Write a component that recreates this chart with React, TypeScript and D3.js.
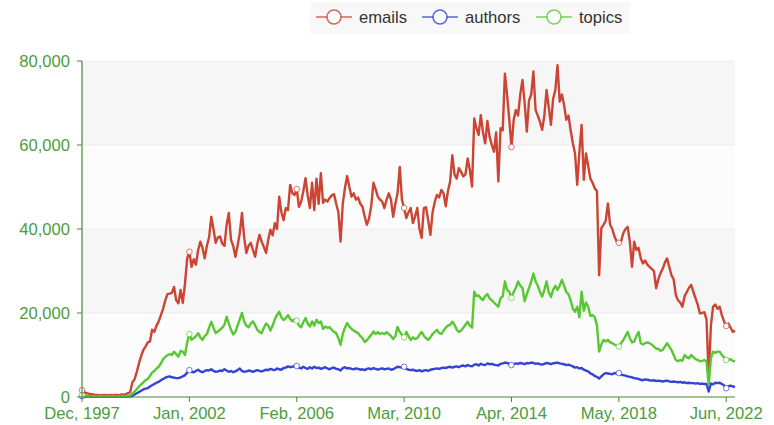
import React from "react";
import * as d3 from "d3";

const START_YEAR = 1997;
const START_MONTH = 11; // December (0-based)
const MONTHS = ["Jan","Feb","Mar","Apr","May","Jun","Jul","Aug","Sep","Oct","Nov","Dec"];
const LABEL_INTERVAL = 49;
const Y_TICKS = [0, 20000, 40000, 60000, 80000];

const emails = [
  1600,1200,900,800,700,600,500,500,400,400,
  500,400,400,500,400,500,500,400,600,500,
  700,900,1200,3500,4200,6000,8000,9800,11200,12000,
  13000,13200,16000,15500,17000,18000,19500,21000,23000,24500,
  24600,24800,26200,23000,22300,25500,22400,27000,33000,34600,
  31000,32800,31500,35000,37000,35500,33000,36000,38000,42900,
  40000,36700,38000,38200,36500,36000,41000,43800,37400,36000,
  33400,36000,39000,43800,38000,34300,36000,36700,35000,33400,
  36500,38600,37000,35700,34300,37500,39800,38500,41400,40000,
  47700,44000,42100,45000,44500,50500,48500,48100,49500,45300,
  46500,49000,52100,48000,45000,51000,44500,52000,46000,53300,
  46200,47000,46500,47400,48000,48300,46000,44000,37000,46000,
  49800,52600,50000,47700,48500,47000,47500,46000,45300,43000,
  41000,42500,45500,51000,49500,47700,47000,46500,45000,47000,
  48500,47000,42900,46000,48500,54800,47000,45000,42600,44000,
  45000,41400,43000,45000,40000,37900,45000,45200,42000,38600,
  44000,46500,48100,47500,49300,48500,45400,49000,51300,57600,
  53000,52000,54500,53600,52500,53000,56800,54000,50100,66300,
  64000,62400,67100,63000,60400,65700,62000,60000,58400,63000,
  51300,64000,63500,77000,71900,66000,59500,66000,68300,67000,
  72000,75500,70000,63200,70600,72000,77500,68300,67000,65500,
  63600,67000,73100,69000,64800,71000,73000,79000,70300,72000,
  69500,66000,67000,63500,60400,58000,50500,58500,64800,51700,
  58000,55000,52000,51000,49700,49000,29000,40200,41000,42000,
  46100,41000,40000,38200,37000,36700,37000,39000,40000,40500,
  37000,31000,37000,35000,35500,33000,31800,32500,31500,31000,
  30500,30000,25900,28000,29500,30500,32000,33000,31000,29000,
  28000,24300,23000,22500,21500,24000,25000,26000,26700,25000,
  23500,22000,19900,20000,20200,18500,4800,17000,21500,22000,
  21000,21500,19500,18000,16900,17500,16500,15500,15800,
];

const authors = [
  200,100,100,100,100,100,100,100,100,100,
  100,100,100,100,100,100,100,100,100,100,
  100,100,150,300,600,900,1200,1500,1800,2000,
  2100,2500,2800,3100,3400,3600,4000,4300,4600,4800,
  4900,4700,4600,4500,4500,4700,4900,5200,5800,6400,
  6000,5900,6200,6500,6100,5900,6200,6400,6300,6600,
  6200,6000,6100,6300,6200,6600,6300,6000,6200,5900,
  6100,6400,6800,6200,6000,6100,6300,6200,6000,6200,
  6400,6200,6100,6300,6500,6400,6700,6500,6400,6800,
  6600,6500,6900,7000,7300,7100,7200,7400,7400,7000,
  6800,7200,6900,6700,7100,6800,7200,6900,7000,6700,
  6900,7100,6800,6600,6900,7000,6700,6600,6300,6900,
  7100,6800,6900,6700,6600,6800,6700,6500,6600,6400,
  6700,6800,6600,6900,6700,6500,6700,6800,6600,6700,
  6800,6500,6600,6900,7200,7100,7000,7200,6700,6500,
  6400,6500,6300,6200,6400,6100,6300,6400,6200,6500,
  6600,6700,6800,6700,6900,7000,6900,7100,7200,7000,
  7200,7300,7100,7400,7500,7300,7600,7400,7300,7700,
  7800,7500,7900,7700,7600,8000,7800,7900,7700,7600,
  7500,7900,8000,8200,8100,7900,7600,7800,8000,7900,
  8100,8000,7800,8100,8000,8200,8100,7900,8000,7800,
  7700,7900,8100,8000,7800,8000,8100,8200,8000,7900,
  7800,7600,7700,7500,7300,7000,7100,6800,6900,6500,
  6300,6100,5600,5400,5000,4800,4400,4900,5400,5700,
  5600,5500,5400,5700,5600,5700,5300,5200,5100,4900,
  4800,4700,4500,4400,4300,4100,4000,4200,4100,4000,
  3900,4000,3800,3900,3800,3700,3800,3900,3700,3600,
  3700,3600,3500,3600,3400,3500,3300,3400,3300,3300,
  3200,3300,3100,3200,3100,3100,1300,3200,3000,3400,
  3300,3400,3100,2800,2100,2600,2700,2500,2400,
];

const topics = [
  400,300,250,200,200,200,200,200,200,200,
  200,200,200,200,200,200,200,200,200,200,
  250,300,400,800,1300,1900,2500,3000,3500,4000,
  4300,5000,5800,6200,6800,7200,8000,9000,9500,10000,
  10200,10000,10800,10200,9600,11000,10800,10000,13000,15000,
  13600,14000,14500,15200,14200,13600,14500,15000,16500,17900,
  16500,15200,15600,16000,16500,17200,19100,17500,16000,14900,
  15500,17000,18500,20000,18000,17000,16600,17500,18000,17100,
  16000,15500,15200,16500,17500,17000,15800,17000,18500,19500,
  20300,19000,18300,18800,19500,18600,18000,18500,18200,17000,
  16600,17800,18800,17500,16800,18000,17000,18400,17600,18000,
  16200,16800,16500,16600,16000,15500,15200,14000,12400,15000,
  16500,17600,16800,16200,15800,15500,15200,14500,14000,13100,
  13500,14200,14800,15600,15000,15400,15000,15200,15000,15400,
  15000,14500,13800,14500,16700,15500,14800,14200,15500,14500,
  13600,14200,13800,14000,14800,15500,14600,14000,13600,14200,
  15000,15500,16000,15200,15000,15800,16500,17000,17200,17900,
  17200,16000,15500,15800,16500,17200,17900,17000,16500,25100,
  24000,24200,23500,23100,24000,24500,23500,23000,22500,22000,
  21500,23500,24000,27500,25500,25000,23600,25000,26000,27500,
  26500,26000,22800,24500,26000,27500,29400,27500,26500,25000,
  23900,25500,27500,25000,23800,25500,26500,25500,26500,27900,
  26500,25000,24500,23000,21000,20300,21500,19000,25100,20500,
  22500,21500,19300,19500,19000,17100,10800,12500,13600,13200,
  13600,13000,12800,12500,12300,12000,12800,13500,14500,15500,
  14000,13000,13200,14500,15500,12800,12500,12800,13000,12800,
  12500,12000,11500,11500,11000,11200,12000,12800,12000,11200,
  10000,8800,8500,8800,8600,10000,9500,9200,10000,9500,
  9000,8800,8500,8600,8800,8500,2900,9200,10800,10500,
  10800,10800,10000,9500,8800,8800,9000,8600,8500,
];

const seriesNames = ["emails", "authors", "topics"];
const seriesColors = ["#cc4433", "#3343d3", "#58c832"];
const seriesData = [emails, authors, topics];

const W = 774, H = 425;
const LEFT = 82, RIGHT = 735, TOP = 61, BOTTOM = 397;
const AXIS_COLOR = "#3f8d30";
const LABEL_COLOR = "#4c9c3c";
const FONT = "'Liberation Sans', Arial, Helvetica, sans-serif";
const FS = 16.6;

export default function App() {
  const n = emails.length;
  const categories = d3.range(n).map((i) => {
    const m = START_MONTH + i;
    return `${MONTHS[m % 12]}, ${START_YEAR + Math.floor(m / 12)}`;
  });
  const x = d3.scalePoint<number>().domain(d3.range(n)).range([LEFT, RIGHT]);
  const y = d3.scaleLinear().domain([0, 80000]).range([BOTTOM, TOP]);
  const fmt = d3.format(",");
  const line = d3
    .line<number>()
    .x((_, i) => x(i) as number)
    .y((d) => y(d));
  const labelIdx = d3.range(0, n, LABEL_INTERVAL);

  const legendX = [316, 422, 536];

  return (
    <svg width={W} height={H} style={{ position: "absolute", left: 0, top: 0, background: "#fff" }}>
      {Y_TICKS.slice(0, -1).map((t, k) => (
        <rect
          key={"band" + t}
          x={LEFT}
          width={RIGHT - LEFT}
          y={y(Y_TICKS[k + 1])}
          height={y(t) - y(Y_TICKS[k + 1])}
          fill={k % 2 === 0 ? "#fcfcfc" : "#f6f6f6"}
        />
      ))}
      {Y_TICKS.slice(1).map((t) => (
        <line key={"g" + t} x1={LEFT} x2={RIGHT} y1={y(t)} y2={y(t)} stroke="#ececec" strokeWidth={1} />
      ))}
      {seriesData.map((data, s) => (
        <path
          key={"s" + s}
          d={line(data) || ""}
          fill="none"
          stroke={seriesColors[s]}
          strokeWidth={2.4}
          strokeLinejoin="round"
        />
      ))}
      {seriesData.map((data, s) =>
        labelIdx.map((i) => (
          <circle
            key={"c" + s + "-" + i}
            cx={x(i) as number}
            cy={y(data[i])}
            r={2.8}
            fill="#fff"
            stroke={seriesColors[s]}
            strokeOpacity={0.7}
            strokeWidth={1}
          />
        ))
      )}
      <line x1={LEFT} x2={LEFT} y1={TOP} y2={BOTTOM} stroke={AXIS_COLOR} strokeWidth={1.2} />
      {Y_TICKS.map((t) => (
        <g key={"yt" + t}>
          <line x1={LEFT - 5} x2={LEFT} y1={y(t)} y2={y(t)} stroke={AXIS_COLOR} strokeWidth={1} />
          <text
            x={LEFT - 12}
            y={y(t)}
            textAnchor="end"
            dominantBaseline="central"
            fontFamily={FONT}
            fontSize={FS}
            fill={LABEL_COLOR}
          >
            {fmt(t)}
          </text>
        </g>
      ))}
      <line x1={LEFT} x2={RIGHT} y1={BOTTOM} y2={BOTTOM} stroke={AXIS_COLOR} strokeWidth={1.2} />
      {labelIdx.map((i) => (
        <g key={"xt" + i}>
          <line x1={x(i) as number} x2={x(i) as number} y1={BOTTOM} y2={BOTTOM + 5} stroke={AXIS_COLOR} strokeWidth={1} />
          <text
            x={x(i) as number}
            y={BOTTOM + 22}
            textAnchor="middle"
            fontFamily={FONT}
            fontSize={FS}
            fill={LABEL_COLOR}
          >
            {categories[i]}
          </text>
        </g>
      ))}
      <rect x={310} y={2} width={320} height={32} fill="#f8f8f8" />
      {seriesNames.map((name, s) => (
        <g key={"lg" + name}>
          <line
            x1={legendX[s]}
            x2={legendX[s] + 36}
            y1={17}
            y2={17}
            stroke={seriesColors[s]}
            strokeOpacity={0.8}
            strokeWidth={1.6}
          />
          <circle cx={legendX[s] + 18} cy={17} r={7} fill="#fff" stroke={seriesColors[s]} strokeOpacity={0.8} strokeWidth={1.6} />
          <text
            x={legendX[s] + 43}
            y={17}
            dominantBaseline="central"
            fontFamily={FONT}
            fontSize={FS}
            fill="#333"
          >
            {name}
          </text>
        </g>
      ))}
    </svg>
  );
}
